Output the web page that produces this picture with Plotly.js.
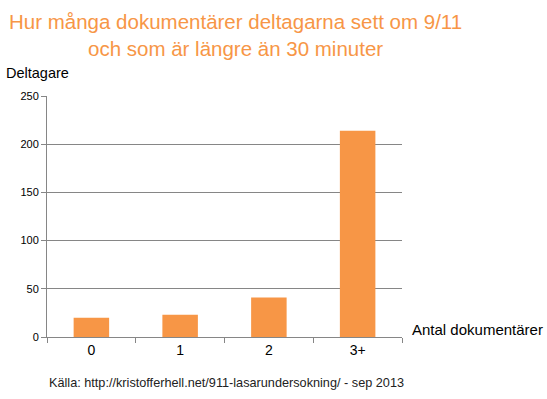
<!DOCTYPE html>
<html>
<head>
<meta charset="utf-8">
<script src="https://cdn.plot.ly/plotly-3.0.1.min.js"></script>
<style>html,body{margin:0;padding:0;background:#fff;}#chart{width:547px;height:399px;}</style>
</head>
<body>
<div id="chart"></div>
<script>
const categories = ["0", "1", "2", "3+"];
const deltagare = [20, 23, 41, 214];
const yTicks = [0, 50, 100, 150, 200, 250];

const titleText = "Hur många dokumentärer deltagarna sett om 9/11<br>och som är längre än 30 minuter";
const yTitle = "Deltagare";
const xTitle = "Antal dokumentärer";
const sourceText = "Källa: http://kristofferhell.net/911-lasarundersokning/ - sep 2013";

const FONT = "Liberation Sans, Arial, sans-serif";

Plotly.newPlot("chart", [{
  type: "bar",
  x: categories,
  y: deltagare,
  marker: {color: "#F79646"},
  width: 0.4,
  hoverinfo: "x+y"
}], {
  width: 547, height: 399,
  margin: {l: 47, r: 145, t: 96, b: 62},
  paper_bgcolor: "#fff", plot_bgcolor: "#fff",
  showlegend: false,
  font: {family: FONT, color: "#000"},
  xaxis: {
    type: "category",
    showline: true, linecolor: "#868686", linewidth: 1,
    ticks: "outside", tickson: "boundaries", ticklen: 5, tickcolor: "#868686",
    tickfont: {size: 14, color: "#000"},
    showgrid: false, zeroline: false
  },
  yaxis: {
    range: [0, 250],
    tickvals: yTicks,
    showline: true, linecolor: "#868686", linewidth: 1,
    ticks: "outside", ticklen: 5, tickcolor: "#868686",
    tickfont: {size: 11, color: "#000"},
    showgrid: true, gridcolor: "#868686", gridwidth: 1,
    zeroline: false
  },
  annotations: [
    {text: titleText, xref: "paper", yref: "paper", x: 0.53, y: 1, xanchor: "center", yanchor: "bottom",
     yshift: 34, showarrow: false, font: {size: 20.5, color: "#F79646", family: FONT}},
    {text: yTitle, xref: "paper", yref: "paper", x: -0.12, y: 1, xanchor: "left", yanchor: "bottom",
     yshift: 13, showarrow: false, font: {size: 14.5, color: "#000", family: FONT}},
    {text: xTitle, xref: "paper", yref: "paper", x: 1, y: 0, xanchor: "left", yanchor: "middle",
     xshift: 8, yshift: 8, showarrow: false, font: {size: 15, color: "#000", family: FONT}},
    {text: sourceText, xref: "paper", yref: "paper", x: 0, y: 0, xanchor: "left", yanchor: "middle",
     yshift: -46, showarrow: false, font: {size: 12.7, color: "#222", family: FONT}}
  ]
}, {displayModeBar: false, staticPlot: true});
</script>
</body>
</html>
